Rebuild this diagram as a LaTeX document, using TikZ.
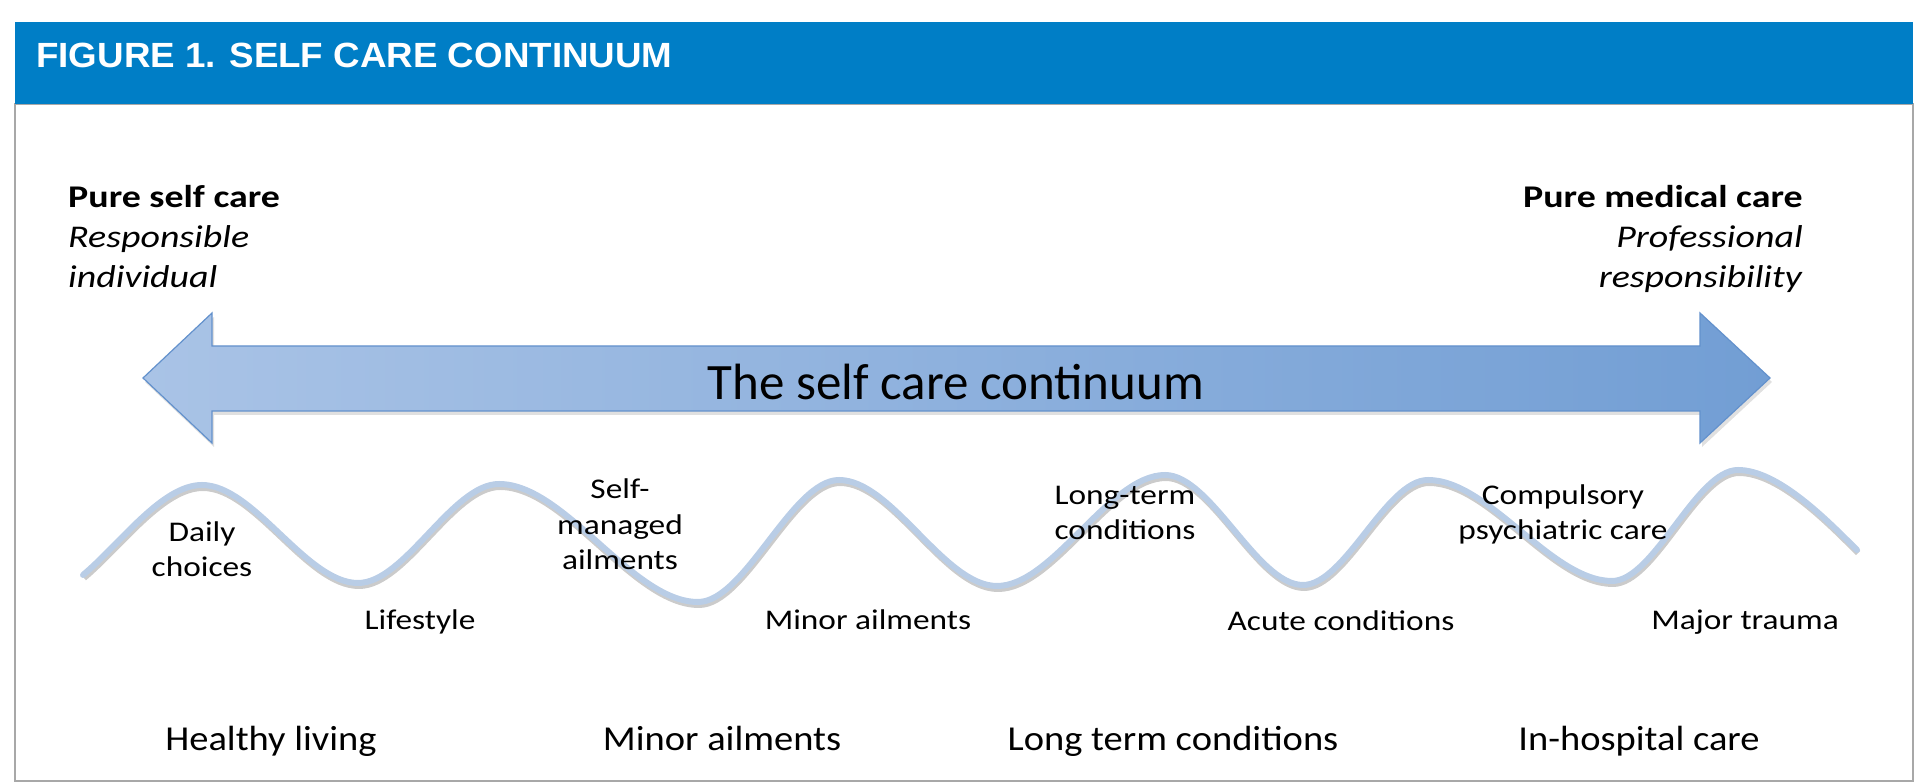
\documentclass[tikz,border=0pt]{standalone}
\usepackage{fontspec}
\setmainfont{Carlito}
\newfontfamily\headfont{Liberation Sans}
\usetikzlibrary{positioning}
\definecolor{bandblue}{HTML}{007EC6}
\definecolor{framegray}{HTML}{A8A8A8}
\definecolor{arrowleft}{HTML}{A9C3E6}
\definecolor{arrowright}{HTML}{729ED4}
\definecolor{arrowline}{HTML}{6391CC}
\definecolor{wavecol}{HTML}{B9CDE6}

\begin{document}
\begin{tikzpicture}[x=1pt,y=1pt,
  corner text/.style={inner sep=0pt,text depth=0pt,font=\fontsize{31.6}{40}\selectfont,xscale=1.2},
  wave label/.style={inner sep=0pt,anchor=south,text depth=0pt,align=center,font=\fontsize{28.5}{35.5}\selectfont,xscale=1.17},
  stage label/.style={inner sep=0pt,anchor=base,font=\fontsize{35}{42}\selectfont,xscale=1.1},
  wave line/.style={wavecol,line width=6,line cap=round,preaction={draw=black!45,opacity=.45,line width=6,transform canvas={shift={(1,-3)}}}}]
\useasboundingbox (0,0) rectangle (1920,783);

% frame and title band
\draw[framegray,line width=1.5] (15,2) rectangle (1913,679);
\fill[bandblue] (15,679) rectangle (1913,761);
\node[anchor=base west,inner sep=0pt,text=white,font=\headfont\bfseries\fontsize{35}{42}\selectfont,xscale=1.05] (title) at (36,715) {FIGURE 1. SELF CARE CONTINUUM};

% the two ends
\node[corner text,anchor=south west,align=left] (selfcare) at (68,495) {\textbf{Pure self care}\\\textit{Responsible}\\\textit{individual}};
\node[corner text,anchor=south east,align=right] (medcare) at (1803,495) {\textbf{Pure medical care}\\\textit{Professional}\\\textit{responsibility}};

% double arrow
\shade[left color=arrowleft,right color=arrowright,draw=arrowline,line width=1.2,
  preaction={fill=black!40,opacity=.3,transform canvas={shift={(2,-4)}}}]
  (143,405) -- (212,470) -- (212,437) -- (1700,437) -- (1700,470) -- (1770,405)
  -- (1700,340) -- (1700,372) -- (212,372) -- (212,340) -- cycle;
\node[anchor=base,inner sep=0pt,font=\fontsize{51}{60}\selectfont] (continuum) at (956,383) {The self care continuum};

% wave
\draw[wave line] (83,208)
  .. controls +(38,32) and +(-40,0) .. (202,298)
  .. controls +(52,0) and +(-52,0) .. (358,200)
  .. controls +(47,0) and +(-47,0) .. (499,299)
  .. controls +(66,0) and +(-66,0) .. (698,181)
  .. controls +(47,0) and +(-47,0) .. (839,303)
  .. controls +(53,0) and +(-53,0) .. (997,197)
  .. controls +(56,0) and +(-56,0) .. (1165,308)
  .. controls +(46,0) and +(-46,0) .. (1303,198)
  .. controls +(42,0) and +(-42,0) .. (1428,303)
  .. controls +(61,0) and +(-61,0) .. (1612,202)
  .. controls +(42,0) and +(-42,0) .. (1738,313)
  .. controls +(40,0) and +(-30,30) .. (1857,233);

\node[wave label] (daily) at (202,206) {Daily\\choices};
\node[wave label] (lifestyle) at (420,153) {Lifestyle};
\node[wave label] (selfman) at (620,213) {Self-\\managed\\ailments};
\node[wave label] (minorw) at (868,153) {Minor ailments};
\node[wave label] (longw) at (1125,243) {Long-term\\conditions};
\node[wave label] (acute) at (1341,152) {Acute conditions};
\node[wave label] (psych) at (1563,243) {Compulsory\\psychiatric care};
\node[wave label] (trauma) at (1745,153) {Major trauma};

% stages
\node[stage label] (healthy) at (271,32) {Healthy living};
\node[stage label] (minor) at (722,32) {Minor ailments};
\node[stage label] (longterm) at (1173,32) {Long term conditions};
\node[stage label] (hospital) at (1639,32) {In-hospital care};
\end{tikzpicture}
\end{document}
